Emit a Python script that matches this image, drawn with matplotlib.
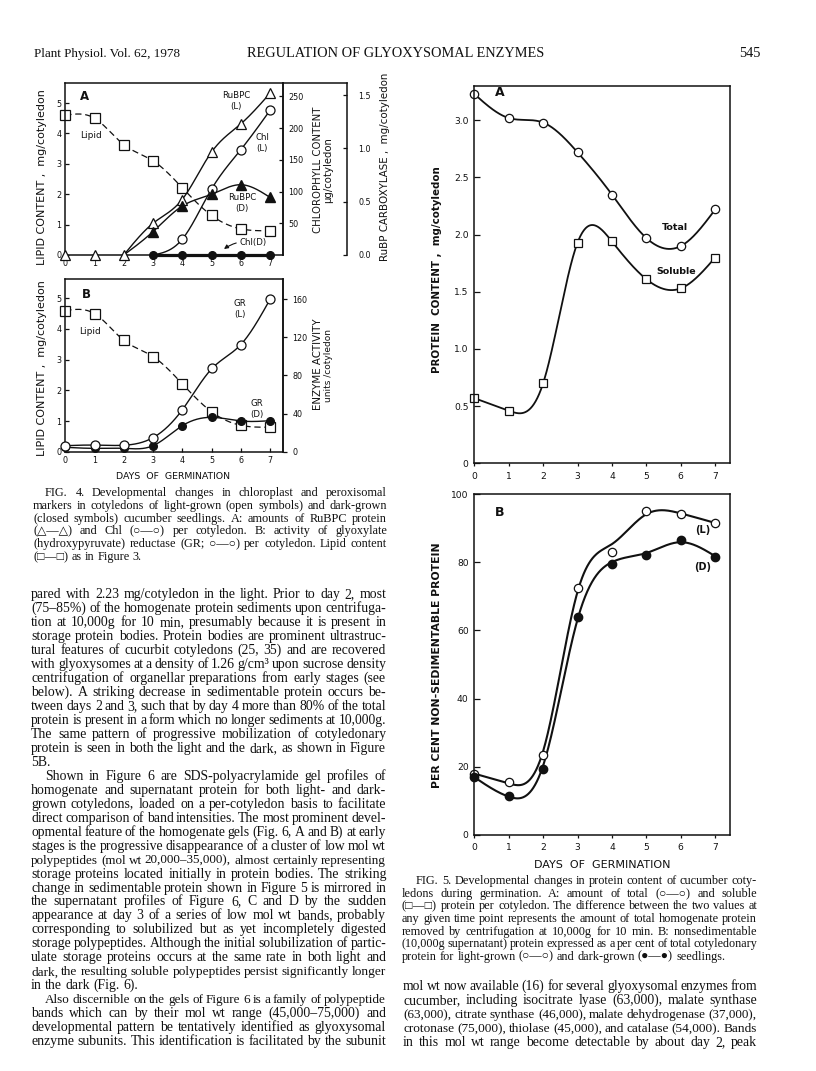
import numpy as np
import matplotlib
matplotlib.use('Agg')
import matplotlib.pyplot as plt
from matplotlib.font_manager import FontProperties
from matplotlib.textpath import text_to_path

plt.rcParams['font.family'] = ['DejaVu Sans']

# ---------------- data ----------------
days = [0, 1, 2, 3, 4, 5, 6, 7]
# Fig 4A / 4B
lipid = [4.6, 4.5, 3.63, 3.1, 2.21, 1.3, 0.86, 0.8]
rubpc_L = [0, 0, 0, 0.30, 0.52, 0.97, 1.23, 1.52]
rubpc_D = [0, 0, 0, 0.22, 0.46, 0.57, 0.66, 0.54]
chl_L = [0, 0, 0, 0, 25, 104, 166, 228]
chl_D = [0, 0, 0, 0, 0, 0, 0, 0]
gr_L = [6.3, 7.0, 6.8, 14.7, 43.7, 87.4, 111.8, 160]
gr_D = [4.6, 3.5, 3.5, 6.3, 27.3, 36.0, 32.2, 32.5]
# Fig 5A / 5B
total = [3.23, 3.02, 2.98, 2.72, 2.35, 1.97, 1.90, 2.22]
soluble = [0.57, 0.46, 0.70, 1.93, 1.94, 1.61, 1.53, 1.80]
nonsed_L = [18, 15.5, 23.5, 72.5, 83, 95, 94, 91.5]
nonsed_D = [17, 11.5, 19.5, 64, 79.5, 82, 86.5, 81.5]

lipid_ticks = [0, 1, 2, 3, 4, 5]
chl_ticks = [50, 100, 150, 200, 250]
rub_ticks = [0.0, 0.5, 1.0, 1.5]
gr_ticks = [0, 40, 80, 120, 160]
prot_ticks = [0, 0.5, 1.0, 1.5, 2.0, 2.5, 3.0]
prot_labels = ['0', '0.5', '1.0', '1.5', '2.0', '2.5', '3.0']
pct_ticks = [0, 20, 40, 60, 80, 100]

# ---------------- helpers ----------------
W, H, DPI = 816, 1071, 100
fig = plt.figure(figsize=(W / DPI, H / DPI), dpi=DPI)
fig.patch.set_facecolor('white')


def rect(x0, y0, x1, y1):
    return [x0 / W, 1 - y1 / H, (x1 - x0) / W, (y1 - y0) / H]


def smooth(xd, yd, lam=1e-5, wts=None, n=60):
    xd = np.asarray(xd, float)
    yd = np.asarray(yd, float)
    wv = np.ones(len(xd)) if wts is None else np.asarray(wts, float)
    xs = np.linspace(xd[0], xd[-1], int(round((xd[-1] - xd[0]) * n)) + 1)
    h = xs[1] - xs[0]
    idx = np.round((xd - xd[0]) / h).astype(int)
    N = len(xs)
    D = np.diff(np.eye(N), 2, axis=0) / h ** 2
    A = lam * h * (D.T @ D)
    A[idx, idx] += wv
    b = np.zeros(N)
    b[idx] = wv * yd
    return xs, np.linalg.solve(A, b)


SERIF = ['Liberation Serif', 'DejaVu Sans']
SANS = ['DejaVu Sans']


def measure(s, fp):
    w, h, d = text_to_path.get_text_width_height_descent(s, fp, ismath=False)
    return w * DPI / 72.0


def fit_size(s, family, target, weight='normal'):
    fp = FontProperties(family=family, size=10, weight=weight)
    return 10 * target / measure(s, fp)


def block_size(lines, fill=1.0):
    fp = FontProperties(family=SERIF, size=10)
    fits = [10 * (w * fill) / measure(s, fp) for s, w in lines]
    return float(np.median(fits))


ov = fig.add_axes([0, 0, 1, 1], zorder=10)
ov.set_xlim(0, W)
ov.set_ylim(H, 0)
ov.axis('off')
K = '#111111'


def justify(x0, x1, yc, text, size, just=True):
    words = text.split()
    sz = size
    while True:
        fp = FontProperties(family=SERIF, size=sz)
        widths = [measure(w, fp) for w in words]
        space = measure('a a', fp) - measure('aa', fp)
        if len(words) < 2 or not just:
            gap = space
            break
        gap = (x1 - x0 - sum(widths)) / (len(words) - 1)
        if gap >= 0.75 * space or sz < 0.8 * size:
            break
        sz *= 0.985
    px = size * DPI / 72.0
    base = yc + 0.3 * px
    x = x0
    for wd, ww in zip(words, widths):
        ov.text(x, base, wd, fontproperties=fp, ha='left', va='baseline', color=K)
        x += ww + gap


def vlabel(x, yc, s, length, weight='normal'):
    sz = fit_size(s, SANS, length, weight)
    ov.text(x, yc, s, rotation=90, ha='center', va='center', fontsize=sz,
            fontweight=weight, color=K)


def hlabel(xc, yc, s, length):
    sz = fit_size(s, SANS, length)
    ov.text(xc, yc, s, ha='center', va='center', fontsize=sz, color=K)


LW_SP = 1.1


def style(ax, fs):
    for sp in ax.spines.values():
        sp.set_linewidth(LW_SP)
        sp.set_color(K)
    ax.tick_params(direction='in', length=3, width=0.9, labelsize=fs, colors=K, pad=2.5)


# ---------------- header ----------------
t1 = 'Plant Physiol. Vol. 62, 1978'
ov.text(34, 57, t1, fontproperties=FontProperties(family=SERIF, size=fit_size(t1, SERIF, 146)),
        ha='left', va='baseline', color=K)
t2 = 'REGULATION OF GLYOXYSOMAL ENZYMES'
s2 = fit_size(t2, SERIF, 298)
ov.text(247, 57, t2, fontproperties=FontProperties(family=SERIF, size=s2), ha='left', va='baseline', color=K)
ov.text(760, 57, '545', fontproperties=FontProperties(family=SERIF, size=s2), ha='right', va='baseline', color=K)

# ---------------- Fig 4A ----------------
XL = (0, 7.43)
ax = fig.add_axes(rect(65.3, 83.3, 282.7, 255))
ax.set_xlim(*XL)
ax.set_ylim(0, 5.65)
style(ax, 5.8)
ax.set_xticks(days)
ax.set_yticks(lipid_ticks)
ax.tick_params(axis='y', pad=3)
ax.tick_params(axis='x', pad=3)
axc = ax.twinx()
axc.set_ylim(0, 270.4)
axr = ax.twinx()
axr.set_ylim(0, 1.612)
axr.spines['right'].set_position(('axes', (347.3 - 65.3) / (282.7 - 65.3)))
for a in (axc, axr):
    style(a, 5.8)
    for k in ('left', 'top', 'bottom'):
        a.spines[k].set_visible(False)
    a.patch.set_visible(False)
axc.set_yticks(chl_ticks)
axc.tick_params(axis='y', pad=4)
axr.set_yticks(rub_ticks)
axr.set_yticklabels(['%.1f' % v for v in rub_ticks])
axr.tick_params(axis='y', pad=8)

xs, ys = smooth(days, lipid)
ax.plot(xs, ys, color=K, lw=0.9, ls=(0, (5, 3)))
ax.plot(days, lipid, ls='none', marker='s', ms=6.5, mfc='white', mec=K, mew=0.9, clip_on=False)

xs, ys = smooth(days[2:], rubpc_L[2:], lam=2e-3)
axr.plot(xs, ys, color=K, lw=1.0)
xs, ys = smooth(days[2:], rubpc_D[2:])
axr.plot(xs, ys, color=K, lw=1.0)
xs, ys = smooth(days[3:], chl_L[3:])
axc.plot(xs, np.maximum(ys, 0), color=K, lw=1.0)
axc.plot(days[3:], chl_D[3:], color=K, lw=2.3, clip_on=False)
axr.plot(days, rubpc_L, ls='none', marker='^', ms=6.8, mfc='white', mec=K, mew=0.9, clip_on=False)
axr.plot(days[3:], rubpc_D[3:], ls='none', marker='^', ms=6.8, mfc=K, mec=K, clip_on=False)
axc.plot(days[4:], chl_L[4:], ls='none', marker='o', ms=6.5, mfc='white', mec=K, mew=0.9, clip_on=False)
axc.plot(days[3:], chl_D[3:], ls='none', marker='o', ms=5.5, mfc=K, mec=K, clip_on=False)

ov.plot([282.7, 347.3], [83.3, 83.3], color=K, lw=LW_SP, solid_capstyle='projecting')
ov.text(84, 97, 'A', fontsize=8.5, fontweight='bold', ha='center', va='center', color=K)
ov.text(91, 136, 'Lipid', fontsize=6.5, ha='center', va='center', color=K)
ov.text(236, 96, 'RuBPC', fontsize=6.2, ha='center', va='center', color=K)
ov.text(236, 106.5, '(L)', fontsize=6.2, ha='center', va='center', color=K)
ov.text(262, 137, 'Chl', fontsize=6.2, ha='center', va='center', color=K)
ov.text(262, 148, '(L)', fontsize=6.2, ha='center', va='center', color=K)
ov.text(242, 197.5, 'RuBPC', fontsize=6.2, ha='center', va='center', color=K)
ov.text(242, 208, '(D)', fontsize=6.2, ha='center', va='center', color=K)
ov.annotate('Chl(D)', xy=(224, 249), xytext=(239, 242), fontsize=6.2, ha='left', va='center', color=K,
            arrowprops=dict(arrowstyle='-|>', lw=0.8, color=K, shrinkA=0, shrinkB=0,
                            mutation_scale=6, connectionstyle='arc3,rad=0.2'))
vlabel(41.7, 177, 'LIPID CONTENT ,  mg/cotyledon', 175)
vlabel(318, 170, 'CHLOROPHYLL CONTENT', 126)
vlabel(328.5, 170, '\u03bcg/cotyledon', 66)
vlabel(385, 167, 'RuBP CARBOXYLASE ,  mg/cotyledon', 189)

# ---------------- Fig 4B ----------------
bx = fig.add_axes(rect(65.3, 279.3, 282.7, 451.7))
bx.set_xlim(*XL)
bx.set_ylim(0, 5.62)
style(bx, 5.8)
bx.set_xticks(days)
bx.set_yticks(lipid_ticks)
bx.tick_params(axis='both', pad=3)
bxe = bx.twinx()
bxe.set_ylim(0, 180.7)
style(bxe, 5.8)
for k in ('left', 'top', 'bottom'):
    bxe.spines[k].set_visible(False)
bxe.patch.set_visible(False)
bxe.set_yticks(gr_ticks)
bxe.tick_params(axis='y', direction='out', pad=4)

xs, ys = smooth(days, lipid)
bx.plot(xs, ys, color=K, lw=0.9, ls=(0, (5, 3)))
xs, ys = smooth(days, gr_L, lam=4e-3)
bxe.plot(xs, ys, color=K, lw=1.0)
xs, ys = smooth(days, gr_D)
bxe.plot(xs, ys, color=K, lw=1.0)
bx.plot(days, lipid, ls='none', marker='s', ms=6.5, mfc='white', mec=K, mew=0.9, clip_on=False)
bxe.plot(days, gr_D, ls='none', marker='o', ms=5.5, mfc=K, mec=K, clip_on=False)
bxe.plot(days, gr_L, ls='none', marker='o', ms=6.5, mfc='white', mec=K, mew=0.9, clip_on=False)

ov.text(86, 295, 'B', fontsize=8.5, fontweight='bold', ha='center', va='center', color=K)
ov.text(90, 331, 'Lipid', fontsize=6.5, ha='center', va='center', color=K)
ov.text(240, 304, 'GR', fontsize=6.2, ha='center', va='center', color=K)
ov.text(240, 314, '(L)', fontsize=6.2, ha='center', va='center', color=K)
ov.text(257, 403, 'GR', fontsize=6.2, ha='center', va='center', color=K)
ov.text(257, 414, '(D)', fontsize=6.2, ha='center', va='center', color=K)
vlabel(41.7, 368, 'LIPID CONTENT ,  mg/cotyledon', 175)
vlabel(318, 364, 'ENZYME ACTIVITY', 92)
vlabel(328.5, 366, 'units /cotyledon', 72)
hlabel(172.5, 476.7, 'DAYS  OF  GERMINATION', 115)

# ---------------- Fig 5A ----------------
cx = fig.add_axes(rect(474.3, 86, 730, 463.3))
cx.set_xlim(*XL)
cx.set_ylim(0, 3.30)
style(cx, 6.6)
cx.set_xticks(days)
cx.set_yticks(prot_ticks)
cx.set_yticklabels(prot_labels)
cx.tick_params(axis='y', pad=4, length=4)
cx.tick_params(axis='x', pad=4, direction='out', length=2)
xs, ys = smooth(days, total)
cx.plot(xs, ys, color=K, lw=1.3)
xs, ys = smooth(days, soluble)
cx.plot(xs, ys, color=K, lw=1.3)
cx.plot(days, total, ls='none', marker='o', ms=6.0, mfc='white', mec=K, mew=0.9, clip_on=False)
cx.plot(days, soluble, ls='none', marker='s', ms=6.3, mfc='white', mec=K, mew=0.9, clip_on=False)
ov.text(500, 93, 'A', fontsize=9, fontweight='bold', ha='center', va='center', color=K)
ov.text(675, 228, 'Total', fontsize=6.8, fontweight='bold', ha='center', va='center', color=K)
ov.text(676, 271, 'Soluble', fontsize=6.8, fontweight='bold', ha='center', va='center', color=K)
vlabel(436.7, 270, 'PROTEIN  CONTENT ,  mg/cotyledon', 206, 'bold')

# ---------------- Fig 5B ----------------
dx = fig.add_axes(rect(474.3, 494, 730, 835))
dx.set_xlim(*XL)
dx.set_ylim(0, 100)
style(dx, 6.6)
dx.set_xticks(days)
dx.set_yticks(pct_ticks)
dx.tick_params(axis='y', pad=4, length=4)
dx.tick_params(axis='x', pad=4, direction='out', length=2)
wts5 = [4, 4, 4, 4, 1, 1, 1, 1]
xs, ys = smooth(days, nonsed_L, lam=2e-2, wts=wts5)
dx.plot(xs, ys, color=K, lw=1.5)
xs, ys = smooth(days, nonsed_D, lam=2e-2, wts=wts5)
dx.plot(xs, ys, color=K, lw=1.5)
dx.plot(days, nonsed_L, ls='none', marker='o', ms=6.0, mfc='white', mec=K, mew=0.9, clip_on=False)
dx.plot(days, nonsed_D, ls='none', marker='o', ms=6.0, mfc=K, mec=K, clip_on=False)
ov.text(500, 513, 'B', fontsize=9, fontweight='bold', ha='center', va='center', color=K)
ov.text(703, 530, '(L)', fontsize=7, fontweight='bold', ha='center', va='center', color=K)
ov.text(703, 567, '(D)', fontsize=7, fontweight='bold', ha='center', va='center', color=K)
vlabel(437, 665, 'PER CENT NON-SEDIMENTABLE PROTEIN', 245, 'bold')
hlabel(602, 865, 'DAYS  OF  GERMINATION', 137)

# ---------------- captions ----------------
cap4 = [
    'FIG. 4. Developmental changes in chloroplast and peroxisomal',
    'markers in cotyledons of light-grown (open symbols) and dark-grown',
    '(closed symbols) cucumber seedlings. A: amounts of RuBPC protein',
    '(\u25b3\u2014\u25b3) and Chl (\u25cb\u2014\u25cb) per cotyledon. B: activity of glyoxylate',
    '(hydroxypyruvate) reductase (GR; \u25cb\u2014\u25cb) per cotyledon. Lipid content',
    '(\u25a1\u2014\u25a1) as in Figure 3.',
]
cap5 = [
    'FIG. 5. Developmental changes in protein content of cucumber coty-',
    'ledons during germination. A: amount of total (\u25cb\u2014\u25cb) and soluble',
    '(\u25a1\u2014\u25a1) protein per cotyledon. The difference between the two values at',
    'any given time point represents the amount of total homogenate protein',
    'removed by centrifugation at 10,000g for 10 min. B: nonsedimentable',
    '(10,000g supernatant) protein expressed as a per cent of total cotyledonary',
    'protein for light-grown (\u25cb\u2014\u25cb) and dark-grown (\u25cf\u2014\u25cf) seedlings.',
]
cap_lines = [(cap4[0], 342)] + [(s, 354) for s in cap4[1:-1]] + \
            [(cap5[0], 341)] + [(s, 355) for s in cap5[1:-1]]
CAP = block_size(cap_lines, fill=0.97)
for i, line in enumerate(cap4):
    x0 = 45 if i == 0 else 33
    justify(x0, 387, 492.7 + 12.7 * i, line, CAP, just=(i < len(cap4) - 1))
for i, line in enumerate(cap5):
    x0 = 416 if i == 0 else 402
    justify(x0, 757, 880.7 + 12.55 * i, line, CAP, just=(i < len(cap5) - 1))

# ---------------- body text ----------------
body_left = [
    ('pared with 2.23 mg/cotyledon in the light. Prior to day 2, most', 0, True),
    ('(75\u201385%) of the homogenate protein sediments upon centrifuga-', 0, True),
    ('tion at 10,000g for 10 min, presumably because it is present in', 0, True),
    ('storage protein bodies. Protein bodies are prominent ultrastruc-', 0, True),
    ('tural features of cucurbit cotyledons (25, 35) and are recovered', 0, True),
    ('with glyoxysomes at a density of 1.26 g/cm\u00b3 upon sucrose density', 0, True),
    ('centrifugation of organellar preparations from early stages (see', 0, True),
    ('below). A striking decrease in sedimentable protein occurs be-', 0, True),
    ('tween days 2 and 3, such that by day 4 more than 80% of the total', 0, True),
    ('protein is present in a form which no longer sediments at 10,000g.', 0, True),
    ('The same pattern of progressive mobilization of cotyledonary', 0, True),
    ('protein is seen in both the light and the dark, as shown in Figure', 0, True),
    ('5B.', 0, False),
    ('Shown in Figure 6 are SDS-polyacrylamide gel profiles of', 14, True),
    ('homogenate and supernatant protein for both light- and dark-', 0, True),
    ('grown cotyledons, loaded on a per-cotyledon basis to facilitate', 0, True),
    ('direct comparison of band intensities. The most prominent devel-', 0, True),
    ('opmental feature of the homogenate gels (Fig. 6, A and B) at early', 0, True),
    ('stages is the progressive disappearance of a cluster of low mol wt', 0, True),
    ('polypeptides (mol wt 20,000\u201335,000), almost certainly representing', 0, True),
    ('storage proteins located initially in protein bodies. The striking', 0, True),
    ('change in sedimentable protein shown in Figure 5 is mirrored in', 0, True),
    ('the supernatant profiles of Figure 6, C and D by the sudden', 0, True),
    ('appearance at day 3 of a series of low mol wt bands, probably', 0, True),
    ('corresponding to solubilized but as yet incompletely digested', 0, True),
    ('storage polypeptides. Although the initial solubilization of partic-', 0, True),
    ('ulate storage proteins occurs at the same rate in both light and', 0, True),
    ('dark, the resulting soluble polypeptides persist significantly longer', 0, True),
    ('in the dark (Fig. 6).', 0, False),
    ('Also discernible on the gels of Figure 6 is a family of polypeptide', 14, True),
    ('bands which can by their mol wt range (45,000\u201375,000) and', 0, True),
    ('developmental pattern be tentatively identified as glyoxysomal', 0, True),
    ('enzyme subunits. This identification is facilitated by the subunit', 0, True),
]
body_right = [
    'mol wt now available (16) for several glyoxysomal enzymes from',
    'cucumber, including isocitrate lyase (63,000), malate synthase',
    '(63,000), citrate synthase (46,000), malate dehydrogenase (37,000),',
    'crotonase (75,000), thiolase (45,000), and catalase (54,000). Bands',
    'in this mol wt range become detectable by about day 2, peak',
]
blines = [(s, 355 - ind) for s, ind, j in body_left if j] + [(s, 354) for s in body_right]
BODY = block_size(blines, fill=0.98)
for i, (line, ind, j) in enumerate(body_left):
    justify(31 + ind, 386, 594 + 13.97 * i, line, BODY, just=j)
for i, line in enumerate(body_right):
    justify(403, 757, 986 + 13.9 * i, line, BODY, just=True)

fig.savefig('out.png', dpi=DPI, facecolor='white')
